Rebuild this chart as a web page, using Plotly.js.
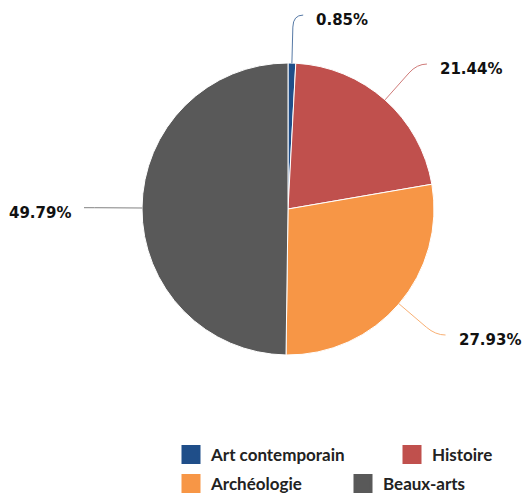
<!DOCTYPE html>
<html><head><meta charset="utf-8">
<script src="https://cdn.plot.ly/plotly-3.0.1.min.js"></script>
<style>html,body{margin:0;padding:0;background:#fff}#chart{width:522px;height:493px}</style>
</head><body><div id="chart"></div>
<script>
const categories = ["Art contemporain", "Histoire", "Archéologie", "Beaux-arts"];
const shares = [0.85, 21.44, 27.93, 49.79];
const colors = ["#1f4e89", "#c0504d", "#f79646", "#595959"];
const legendRow = ["legend", "legend", "legend2", "legend2"];

const W = 522, H = 493, CX = 288, CY = 209, R = 146;
const total = shares.reduce((a, b) => a + b, 0);
const px = x => x / W, py = y => 1 - y / H;
const shapes = [], annotations = [];
let cum = 0;
shares.forEach((v, i) => {
  const mid = (cum + v / 2) / total * 2 * Math.PI; cum += v;
  const sx = Math.sin(mid), sy = -Math.cos(mid);
  const side = sx >= 0 ? 1 : -1;
  const p0 = [CX + R * sx, CY + R * sy];
  const p1 = [CX + (R + 36) * sx, CY + (R + 36) * sy];
  const pc = [CX + (R + 48) * sx, CY + (R + 48) * sy];
  const pe = [pc[0] + side * 10, pc[1]];
  shapes.push({type: 'path', xref: 'paper', yref: 'paper',
    path: `M${px(p0[0])},${py(p0[1])} L${px(p1[0])},${py(p1[1])} Q${px(pc[0])},${py(pc[1])} ${px(pe[0])},${py(pe[1])}`,
    line: {color: colors[i], width: 1}, opacity: 0.75});
  annotations.push({xref: 'paper', yref: 'paper', x: px(pe[0] + side * 11), y: py(pc[1] + 5),
    xanchor: side > 0 ? 'left' : 'right', yanchor: 'middle',
    text: '<b>' + v.toFixed(2) + '%</b>', showarrow: false,
    font: {family: 'DejaVu Sans', size: 15, color: '#111'}});
});

const data = [{
  type: 'pie', labels: categories, values: shares, sort: false, showlegend: false,
  direction: 'clockwise', rotation: 0, textinfo: 'none', hoverinfo: 'label+percent',
  marker: {colors: colors, line: {color: '#ffffff', width: 1}},
  domain: {x: [px(CX - R), px(CX + R)], y: [py(CY + R), py(CY - R)]}
}];
categories.forEach((c, i) => {
  data.push({type: 'scatter', mode: 'markers', x: [null], y: [null], name: c,
    legend: legendRow[i], showlegend: true, hoverinfo: 'skip',
    legendwidth: i === 0 ? 176 : (i === 2 ? 127 : undefined),
    marker: {symbol: 'square', size: 16, color: colors[i], line: {color: colors[i], width: 3}}});
});
const legendFont = {family: 'Lato', size: 17, color: '#222', weight: 'bold'};
const layout = {
  width: W, height: H, margin: {l: 0, r: 0, t: 0, b: 0, autoexpand: false},
  paper_bgcolor: '#fff', plot_bgcolor: '#fff',
  xaxis: {visible: false, showgrid: false, zeroline: false},
  yaxis: {visible: false, showgrid: false, zeroline: false},
  showlegend: true,
  legend: {orientation: 'h', x: px(171), xanchor: 'left', y: py(455), yanchor: 'middle',
    font: legendFont, bgcolor: 'rgba(0,0,0,0)'},
  legend2: {orientation: 'h', x: px(171), xanchor: 'left', y: py(484), yanchor: 'middle',
    font: legendFont, bgcolor: 'rgba(0,0,0,0)'},
  shapes: shapes, annotations: annotations
};
Plotly.newPlot('chart', data, layout, {displayModeBar: false, staticPlot: true});
</script>
</body></html>
